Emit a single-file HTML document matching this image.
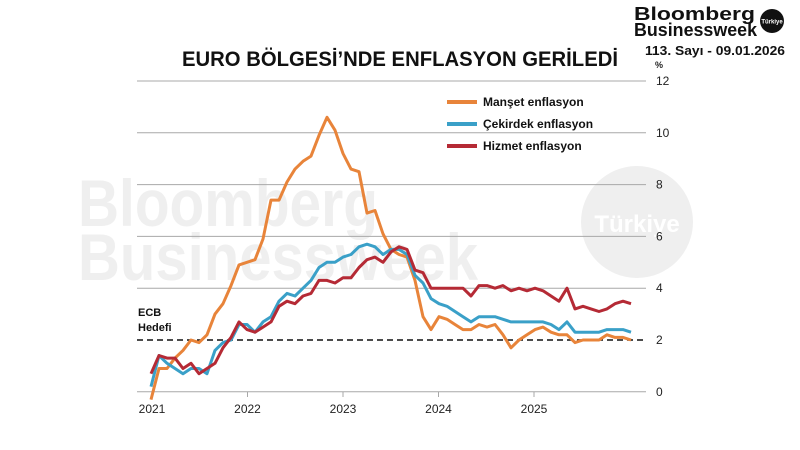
<!DOCTYPE html>
<html><head><meta charset="utf-8"><style>
html,body{margin:0;padding:0;background:#fff;}
svg{display:block;font-family:"Liberation Sans",sans-serif;}
</style></head><body>
<svg id="s" width="800" height="450" viewBox="0 0 800 450" xmlns="http://www.w3.org/2000/svg">
<rect width="800" height="450" fill="#fff"/>
<g fill="#efefef" font-weight="bold" font-size="66">
<text x="78" y="226" textLength="300" lengthAdjust="spacingAndGlyphs">Bloomberg</text>
<text x="78" y="280" textLength="400" lengthAdjust="spacingAndGlyphs">Businessweek</text>
</g>
<circle cx="637" cy="222" r="56" fill="#efefef"/>
<text x="637" y="232" fill="#fff" font-size="24" font-weight="bold" text-anchor="middle">Türkiye</text>
<g id="grid" stroke="#a8a8a8" stroke-width="1"></g>
<g id="labels" font-size="12" fill="#222"></g>
<line x1="137" y1="340" x2="646" y2="340" stroke="#111" stroke-width="1.6" stroke-dasharray="6,4"/>
<text x="138" y="316" font-size="11" font-weight="bold" fill="#111">ECB</text>
<text x="138" y="331" font-size="11" font-weight="bold" fill="#111">Hedefi</text>
<g id="series" fill="none" stroke-width="3" stroke-linejoin="round"></g>
<text x="400" y="66" font-size="21" font-weight="bold" text-anchor="middle" fill="#111" textLength="436" lengthAdjust="spacingAndGlyphs">EURO BÖLGESİ’NDE ENFLASYON GERİLEDİ</text>
<text x="655" y="68" font-size="9" font-weight="bold" fill="#222">%</text>
<g font-size="12" font-weight="bold" fill="#111">
<line x1="447" y1="102" x2="477" y2="102" stroke="#e8843a" stroke-width="4"/>
<text x="483" y="106">Manşet enflasyon</text>
<line x1="447" y1="124" x2="477" y2="124" stroke="#3aa0c8" stroke-width="4"/>
<text x="483" y="128">Çekirdek enflasyon</text>
<line x1="447" y1="146" x2="477" y2="146" stroke="#b52a35" stroke-width="4"/>
<text x="483" y="150">Hizmet enflasyon</text>
</g>
<g font-weight="bold" fill="#111">
<text x="634" y="20" font-size="18" textLength="121" lengthAdjust="spacingAndGlyphs">Bloomberg</text>
<text x="634" y="36" font-size="18" textLength="123" lengthAdjust="spacingAndGlyphs">Businessweek</text>
<circle cx="772" cy="21" r="12" fill="#111"/>
<text x="772" y="23.5" font-size="6" fill="#fff" text-anchor="middle">Türkiye</text>
<text x="645" y="55" font-size="13" textLength="140" lengthAdjust="spacingAndGlyphs">113. Sayı - 09.01.2026</text>
</g>
</svg>
<script>
var NS="http://www.w3.org/2000/svg";
function Y(v){return 391.8-25.9*v;}
function X(i){return 151+8.0*i;}
function el(p,t,a,txt){var e=document.createElementNS(NS,t);for(var k in a)e.setAttribute(k,a[k]);if(txt!==undefined)e.textContent=txt;document.getElementById(p).appendChild(e);}
for(var v=0;v<=12;v+=2){ if(v!==2) el("grid","line",{x1:137,x2:646,y1:Y(v),y2:Y(v)}); el("labels","text",{x:656,y:Y(v)+4},""+v);}
var yrs=[2021,2022,2023,2024,2025];
yrs.forEach(function(y,i){var x=152+95.5*i;el("grid","line",{x1:x,x2:x,y1:391.8,y2:397});el("labels","text",{x:x,y:413,"text-anchor":"middle"},""+y);});
var H=[-0.3,0.9,0.9,1.3,1.6,2.0,1.9,2.2,3.0,3.4,4.1,4.9,5.0,5.1,5.9,7.4,7.4,8.1,8.6,8.9,9.1,9.9,10.6,10.1,9.2,8.6,8.5,6.9,7.0,6.1,5.5,5.3,5.2,4.3,2.9,2.4,2.9,2.8,2.6,2.4,2.4,2.6,2.5,2.6,2.2,1.7,2.0,2.2,2.4,2.5,2.3,2.2,2.2,1.9,2.0,2.0,2.0,2.2,2.1,2.1,2.0];
var C=[0.2,1.4,1.1,0.9,0.7,0.9,0.9,0.7,1.6,1.9,2.0,2.6,2.6,2.3,2.7,2.9,3.5,3.8,3.7,4.0,4.3,4.8,5.0,5.0,5.2,5.3,5.6,5.7,5.6,5.3,5.5,5.5,5.3,4.5,4.2,3.6,3.4,3.3,3.1,2.9,2.7,2.9,2.9,2.9,2.8,2.7,2.7,2.7,2.7,2.7,2.6,2.4,2.7,2.3,2.3,2.3,2.3,2.4,2.4,2.4,2.3];
var S=[0.7,1.4,1.3,1.3,0.9,1.1,0.7,0.9,1.1,1.7,2.1,2.7,2.4,2.3,2.5,2.7,3.3,3.5,3.4,3.7,3.8,4.3,4.3,4.2,4.4,4.4,4.8,5.1,5.2,5.0,5.4,5.6,5.5,4.7,4.6,4.0,4.0,4.0,4.0,4.0,3.7,4.1,4.1,4.0,4.1,3.9,4.0,3.9,4.0,3.9,3.7,3.5,4.0,3.2,3.3,3.2,3.1,3.2,3.4,3.5,3.4];
function pl(d,c){el("series","polyline",{stroke:c,points:d.map(function(v,i){return X(i).toFixed(1)+","+Y(v).toFixed(1);}).join(" ")});}
pl(H,"#e8843a");pl(C,"#3aa0c8");pl(S,"#b52a35");
</script>
</body></html>
